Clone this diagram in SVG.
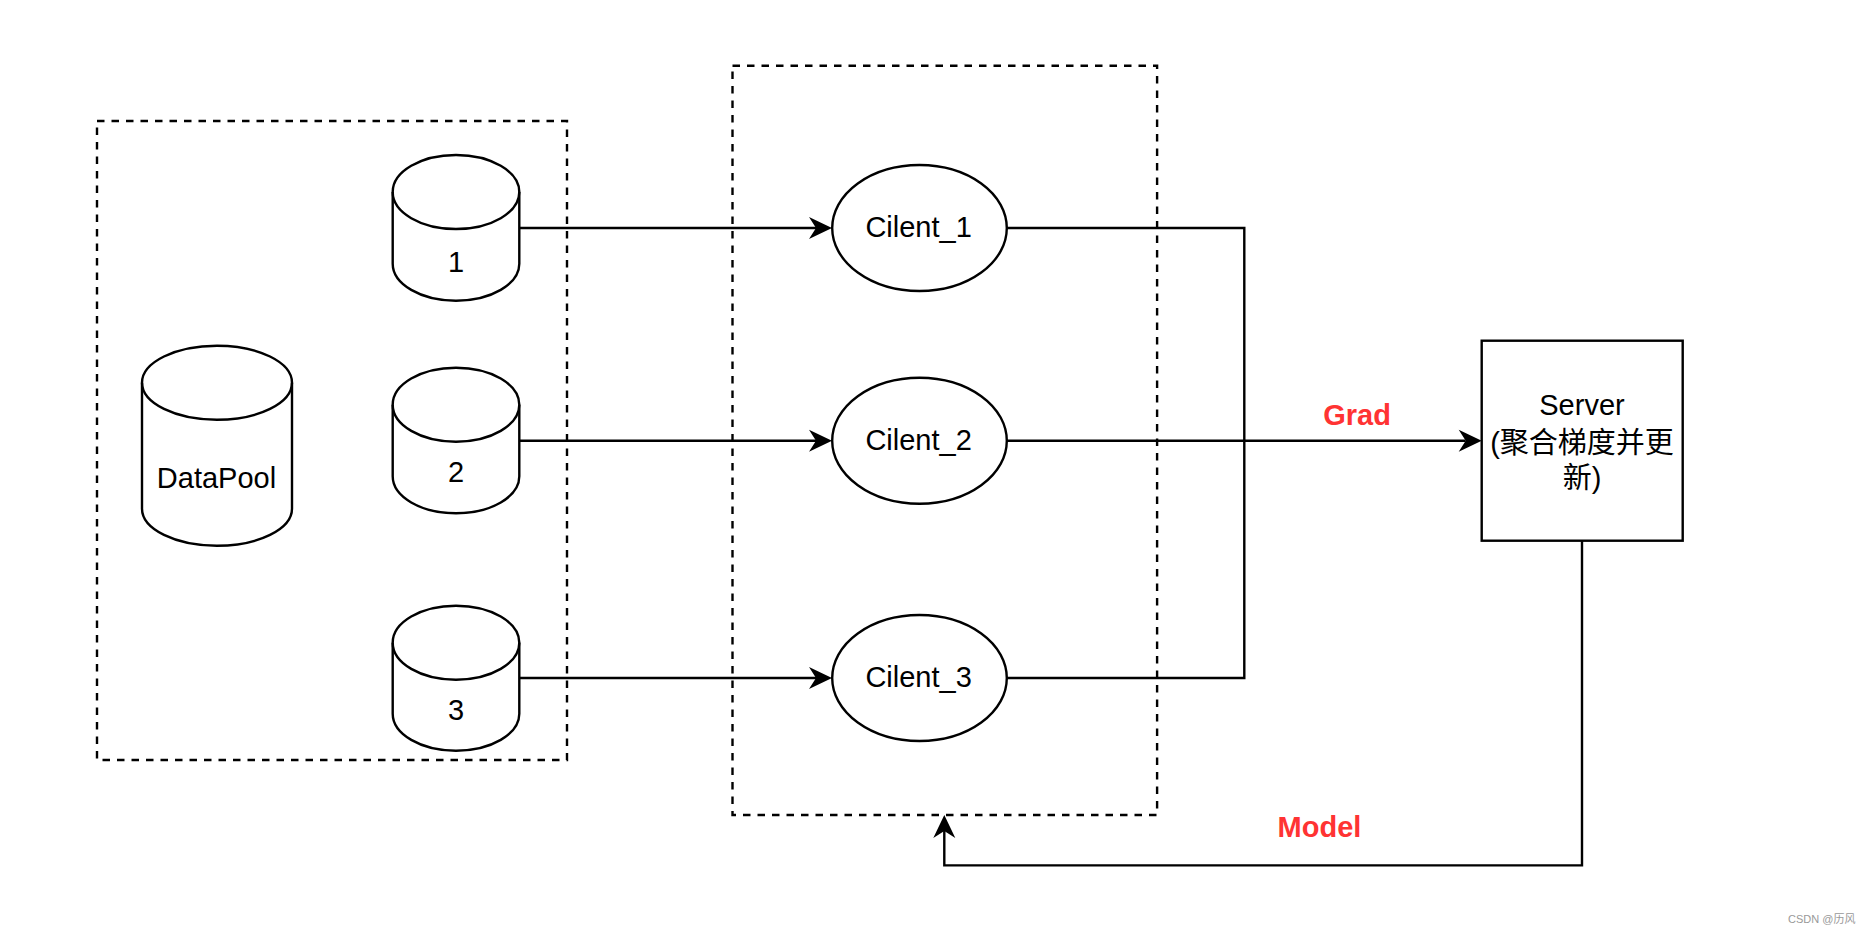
<svg xmlns="http://www.w3.org/2000/svg" width="1871" height="933" viewBox="0 0 1871 933">
<style>
.ln{fill:none;stroke:#000;stroke-width:2.4}
.sh{fill:#fff;stroke:#000;stroke-width:2.4}
.dash{fill:none;stroke:#000;stroke-width:2.4;stroke-dasharray:7.5 7}
.t{font-family:"Liberation Sans","Noto Sans CJK SC",Arial,sans-serif;font-size:29px;fill:#000;text-anchor:middle}
.lbl{font-family:"Liberation Sans",Arial,sans-serif;font-size:29px;font-weight:bold;fill:#ff3333;text-anchor:middle}
.wm{font-family:"Liberation Sans","Noto Sans CJK SC",Arial,sans-serif;font-size:11px;fill:#999}
</style>
<defs>
<marker id="arr" markerUnits="userSpaceOnUse" markerWidth="30" markerHeight="30" viewBox="-10 -15 30 30" refX="0" refY="0" orient="auto" overflow="visible">
<path d="M16,0 L-7,-11 L0,0 L-7,11 Z" fill="#000"/>
</marker>
</defs>
<rect width="1871" height="933" fill="#fff"/>

<g id="group-data">
<rect class="dash" x="97" y="121" width="470" height="639"/>
</g>
<g id="group-clients">
<rect class="dash" x="732.5" y="65.7" width="424.6" height="749.3"/>
</g>

<g id="connectors">
<path class="ln" d="M519.3,228 H816" marker-end="url(#arr)"/>
<path class="ln" d="M519.3,440.7 H816" marker-end="url(#arr)"/>
<path class="ln" d="M519.3,678 H816" marker-end="url(#arr)"/>
<path class="ln" d="M1006.8,228 H1244.3 V678 H1006.8"/>
<path class="ln" d="M1006.8,440.7 H1465.7" marker-end="url(#arr)"/>
<path class="ln" d="M1582,540.7 V865.4 H944.3 V831" marker-end="url(#arr)"/>
<text class="lbl" x="1357" y="424.5">Grad</text>
<text class="lbl" x="1319.5" y="836.8">Model</text>
</g>

<g id="datapool">
<path class="sh" d="M142,382.7 A75,37 0 0 1 292,382.7 L292,508.7 A75,37 0 0 1 142,508.7 Z"/>
<path class="ln" d="M142,382.7 A75,37 0 0 0 292,382.7"/>
<text class="t" x="216.5" y="488.3">DataPool</text>
</g>

<g id="db1">
<path class="sh" d="M392.7,192 A63.3,37 0 0 1 519.3,192 L519.3,263.7 A63.3,37 0 0 1 392.7,263.7 Z"/>
<path class="ln" d="M392.7,192 A63.3,37 0 0 0 519.3,192"/>
<text class="t" x="456" y="271.7">1</text>
</g>
<g id="db2">
<path class="sh" d="M392.7,404.7 A63.3,37 0 0 1 519.3,404.7 L519.3,476.3 A63.3,37 0 0 1 392.7,476.3 Z"/>
<path class="ln" d="M392.7,404.7 A63.3,37 0 0 0 519.3,404.7"/>
<text class="t" x="456" y="482.3">2</text>
</g>
<g id="db3">
<path class="sh" d="M392.7,642.7 A63.3,37 0 0 1 519.3,642.7 L519.3,713.7 A63.3,37 0 0 1 392.7,713.7 Z"/>
<path class="ln" d="M392.7,642.7 A63.3,37 0 0 0 519.3,642.7"/>
<text class="t" x="456" y="720">3</text>
</g>

<g id="client1">
<ellipse class="sh" cx="919.5" cy="228" rx="87.3" ry="63"/>
<text class="t" x="918.6" y="237.3">Cilent_1</text>
</g>
<g id="client2">
<ellipse class="sh" cx="919.5" cy="440.7" rx="87.3" ry="63"/>
<text class="t" x="918.6" y="450">Cilent_2</text>
</g>
<g id="client3">
<ellipse class="sh" cx="919.5" cy="678" rx="87.3" ry="63"/>
<text class="t" x="918.6" y="687">Cilent_3</text>
</g>

<g id="server">
<rect class="sh" x="1481.7" y="340.7" width="201" height="200"/>
<text class="t" x="1582" y="414.6">Server</text>
<text class="t" x="1582" y="452.9">(聚合梯度并更</text>
<text class="t" x="1582" y="487.9">新)</text>
</g>

<text class="wm" x="1788" y="923">CSDN @历风</text>
</svg>
